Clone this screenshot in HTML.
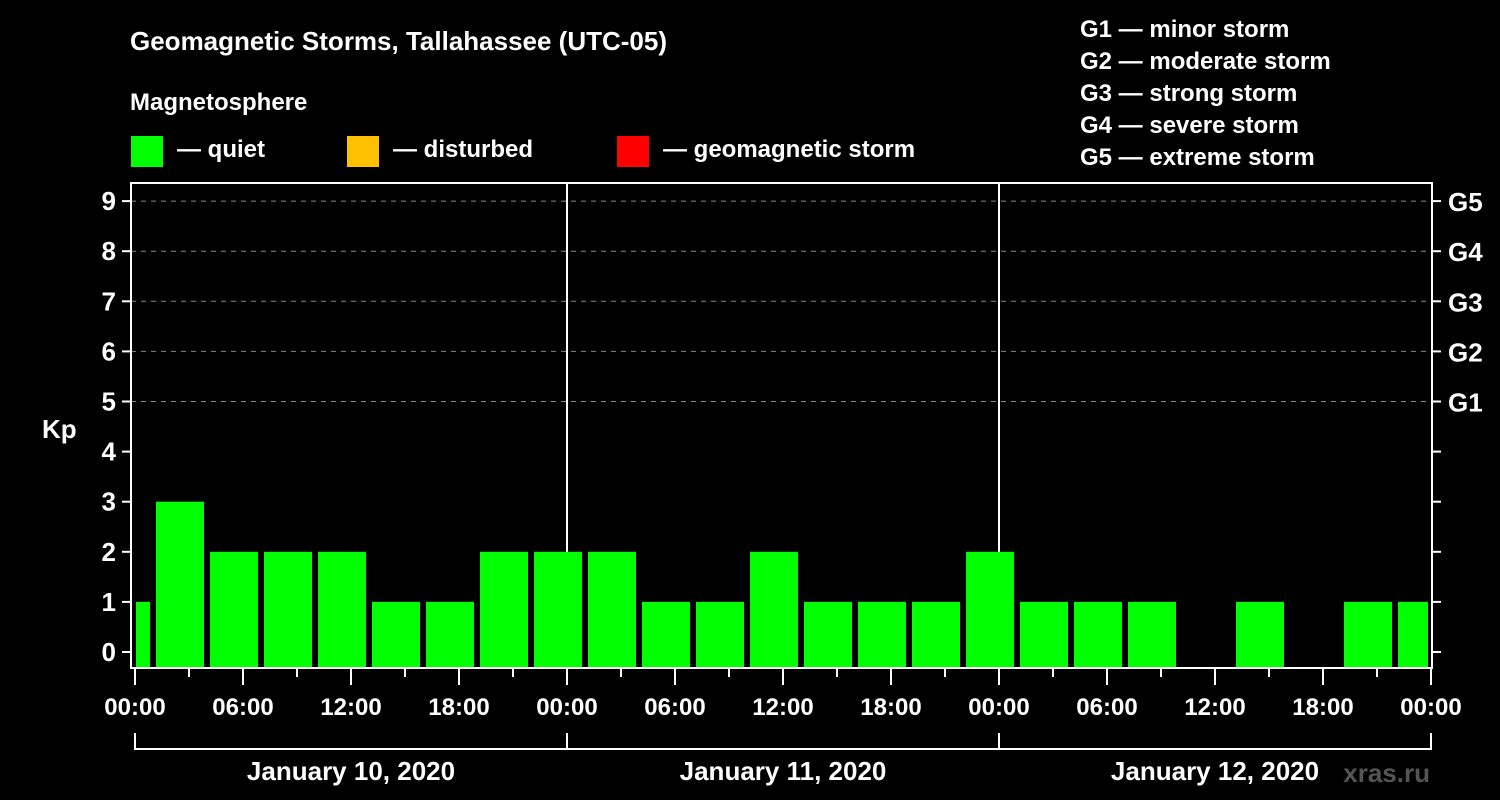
<!DOCTYPE html>
<html><head><meta charset="utf-8"><style>
html,body{margin:0;padding:0;background:#000;}
svg{display:block;font-family:"Liberation Sans",Arial,sans-serif;font-weight:bold;}
</style></head><body>
<svg width="1500" height="800" viewBox="0 0 1500 800">
<rect x="0" y="0" width="1500" height="800" fill="#000"/>
<text x="130" y="50" fill="#fff" font-size="26">Geomagnetic Storms, Tallahassee (UTC-05)</text>
<text x="130" y="110" fill="#fff" font-size="24">Magnetosphere</text>
<g><rect x="131" y="136" width="32" height="31" fill="#00ff00"/><text x="177" y="157" fill="#fff" font-size="24">— quiet</text></g>
<g><rect x="347" y="136" width="32" height="31" fill="#ffc000"/><text x="393" y="157" fill="#fff" font-size="24">— disturbed</text></g>
<g><rect x="617" y="136" width="32" height="31" fill="#ff0000"/><text x="663" y="157" fill="#fff" font-size="24">— geomagnetic storm</text></g>
<g fill="#fff" font-size="24">
<text x="1080" y="37">G1 — minor storm</text>
<text x="1080" y="69">G2 — moderate storm</text>
<text x="1080" y="101">G3 — strong storm</text>
<text x="1080" y="133">G4 — severe storm</text>
<text x="1080" y="165">G5 — extreme storm</text>
</g>
<text x="42" y="438" fill="#fff" font-size="26">Kp</text>
<text x="1430" y="782" fill="#555" font-size="26" text-anchor="end">xras.ru</text>
<g id="plot"></g>
</svg>
<script>
const kpValues = [1,3,2,2,2,1,1,2,2,2,1,1,2,1,1,1,2,1,1,1,null,1,null,1,1];
const yTicks = [0,1,2,3,4,5,6,7,8,9];
const gLabels = ["","","","","","G1","G2","G3","G4","G5"];
const dayLabels = ["January 10, 2020","January 11, 2020","January 12, 2020"];
const hourLabels = ["00:00","06:00","12:00","18:00"];
const startOffsetH = -2; // first 3h slot starts at 22:00 local (UTC-05)

const NS="http://www.w3.org/2000/svg";
const g=document.getElementById('plot');
const X0=135, PXH=18, L=131, R=1432, T=183, B=668;
const x=h=>X0+h*PXH;
const y=v=>652-v*50.1;
function el(t,a){const e=document.createElementNS(NS,t);for(const k in a)e.setAttribute(k,a[k]);g.appendChild(e);return e;}

// grid
yTicks.forEach(v=>{ if(v>=5){
 const ln=el('line',{x1:L,x2:R,y1:y(v),y2:y(v),stroke:'#888','stroke-dasharray':'5,5','stroke-width':1});
 
 
}});
// day separators
[1,2].forEach(d=>{
 const ln=el('line',{x1:x(24*d),x2:x(24*d),y1:T,y2:B,stroke:'#fff','stroke-width':2});
 
 
});
// bars
kpValues.forEach((v,i)=>{
 if(v===null||v===undefined)return;
 let x1=x(startOffsetH+3*i)+3, x2=x(startOffsetH+3*i+3)-3;
 x1=Math.max(x1,L+5); x2=Math.min(x2,R-4);
 const c=v>=5?'#ff0000':(v>=4?'#ffc000':'#00ff00');
 const r=el('rect',{x:x1,y:y(v),width:x2-x1,height:667-y(v),fill:c});
 
 
});
// frame
const f=el('rect',{x:L,y:T,width:R-L,height:B-T,fill:'none',stroke:'#fff','stroke-width':2});


// y ticks
yTicks.forEach(v=>{
 el('line',{x1:122,x2:L,y1:y(v),y2:y(v),stroke:'#fff','stroke-width':2});
 el('line',{x1:R,x2:1441,y1:y(v),y2:y(v),stroke:'#fff','stroke-width':2});
 const t=el('text',{x:116,y:y(v)+9,fill:'#fff','font-size':26,'text-anchor':'end'});
 t.textContent=v;
 
 
 if(gLabels[v]){
  const gt=el('text',{x:1448,y:y(v)+10,fill:'#fff','font-size':26});
  gt.textContent=gLabels[v];
  
  
 }
});
// x ticks
for(let h=0;h<=72;h+=3){
 const major=h%6===0;
 el('line',{x1:x(h),x2:x(h),y1:B,y2:major?685:677,stroke:'#fff','stroke-width':2});
 if(major){
  const t=el('text',{x:x(h),y:715,fill:'#fff','font-size':24,'text-anchor':'middle'});
  t.textContent=hourLabels[(h/6)%4];
  
  
 }
}
// day brackets
dayLabels.forEach((d,i)=>{
 const a=x(24*i), b=x(24*i+24);
 el('polyline',{points:`${a},733 ${a},749 ${b},749 ${b},733`,fill:'none',stroke:'#fff','stroke-width':2});
 const t=el('text',{x:(a+b)/2,y:780,fill:'#fff','font-size':26,'text-anchor':'middle'});
 t.textContent=d;
 
 
});
</script>
</body></html>
